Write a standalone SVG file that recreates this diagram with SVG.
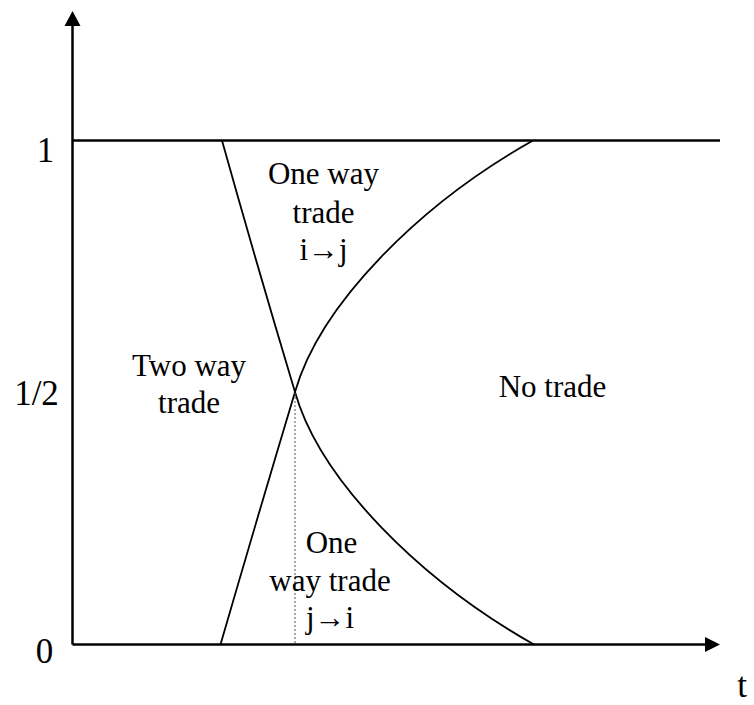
<svg xmlns="http://www.w3.org/2000/svg" width="754" height="705" viewBox="0 0 754 705">
<style>
.ax{stroke:#000;stroke-width:2.5;fill:none}
.cv{stroke:#000;stroke-width:1.8;fill:none}
.dot{stroke:#555;stroke-width:1;stroke-dasharray:2,2;fill:none}
text{font-family:'Liberation Serif','Tinos','Nimbus Roman','Nimbus Roman No9 L','FreeSerif','Noto Serif','DejaVu Serif',serif;fill:#000;text-anchor:middle}
.lab{font-size:31px}
.axl{font-size:35px}
</style>
<rect width="754" height="705" fill="#fff"/>
<g id="axes">
<line class="ax" x1="72.5" y1="644.5" x2="72.5" y2="24"/>
<polygon points="72.5,11 64.5,26 80.5,26" fill="#000"/>
<line class="ax" x1="72.5" y1="644.5" x2="707" y2="644.5"/>
<polygon points="720,644.5 705,637 705,652" fill="#000"/>
<line class="ax" x1="72.5" y1="140.5" x2="720" y2="140.5"/>
</g>
<g id="connectors">
<path class="cv" d="M222,140.5 Q256,262 295,392 C320,480 420,580 534,644.5"/>
<path class="cv" d="M220.5,644.5 Q256,522 295,392 C320,304 420,204 533,140.5"/>
<line class="dot" x1="295" y1="393" x2="295" y2="644"/>
</g>
<g id="axis-labels">
<text class="axl" x="45.5" y="162">1</text>
<text class="axl" x="36.5" y="405">1/2</text>
<text class="axl" x="44.5" y="663">0</text>
<text class="axl" x="742" y="697">t</text>
</g>
<g id="one-way-ij">
<text class="lab" x="323.5" y="183.5">One way</text>
<text class="lab" x="323.5" y="222.5">trade</text>
<text class="lab" x="323.5" y="260">i→j</text>
</g>
<g id="two-way">
<text class="lab" x="189" y="376">Two way</text>
<text class="lab" x="189" y="413">trade</text>
</g>
<g id="no-trade">
<text class="lab" x="552.5" y="397">No trade</text>
</g>
<g id="one-way-ji">
<text class="lab" x="331.5" y="553">One</text>
<text class="lab" x="330" y="591">way trade</text>
<text class="lab" x="330" y="628">j→i</text>
</g>
</svg>
